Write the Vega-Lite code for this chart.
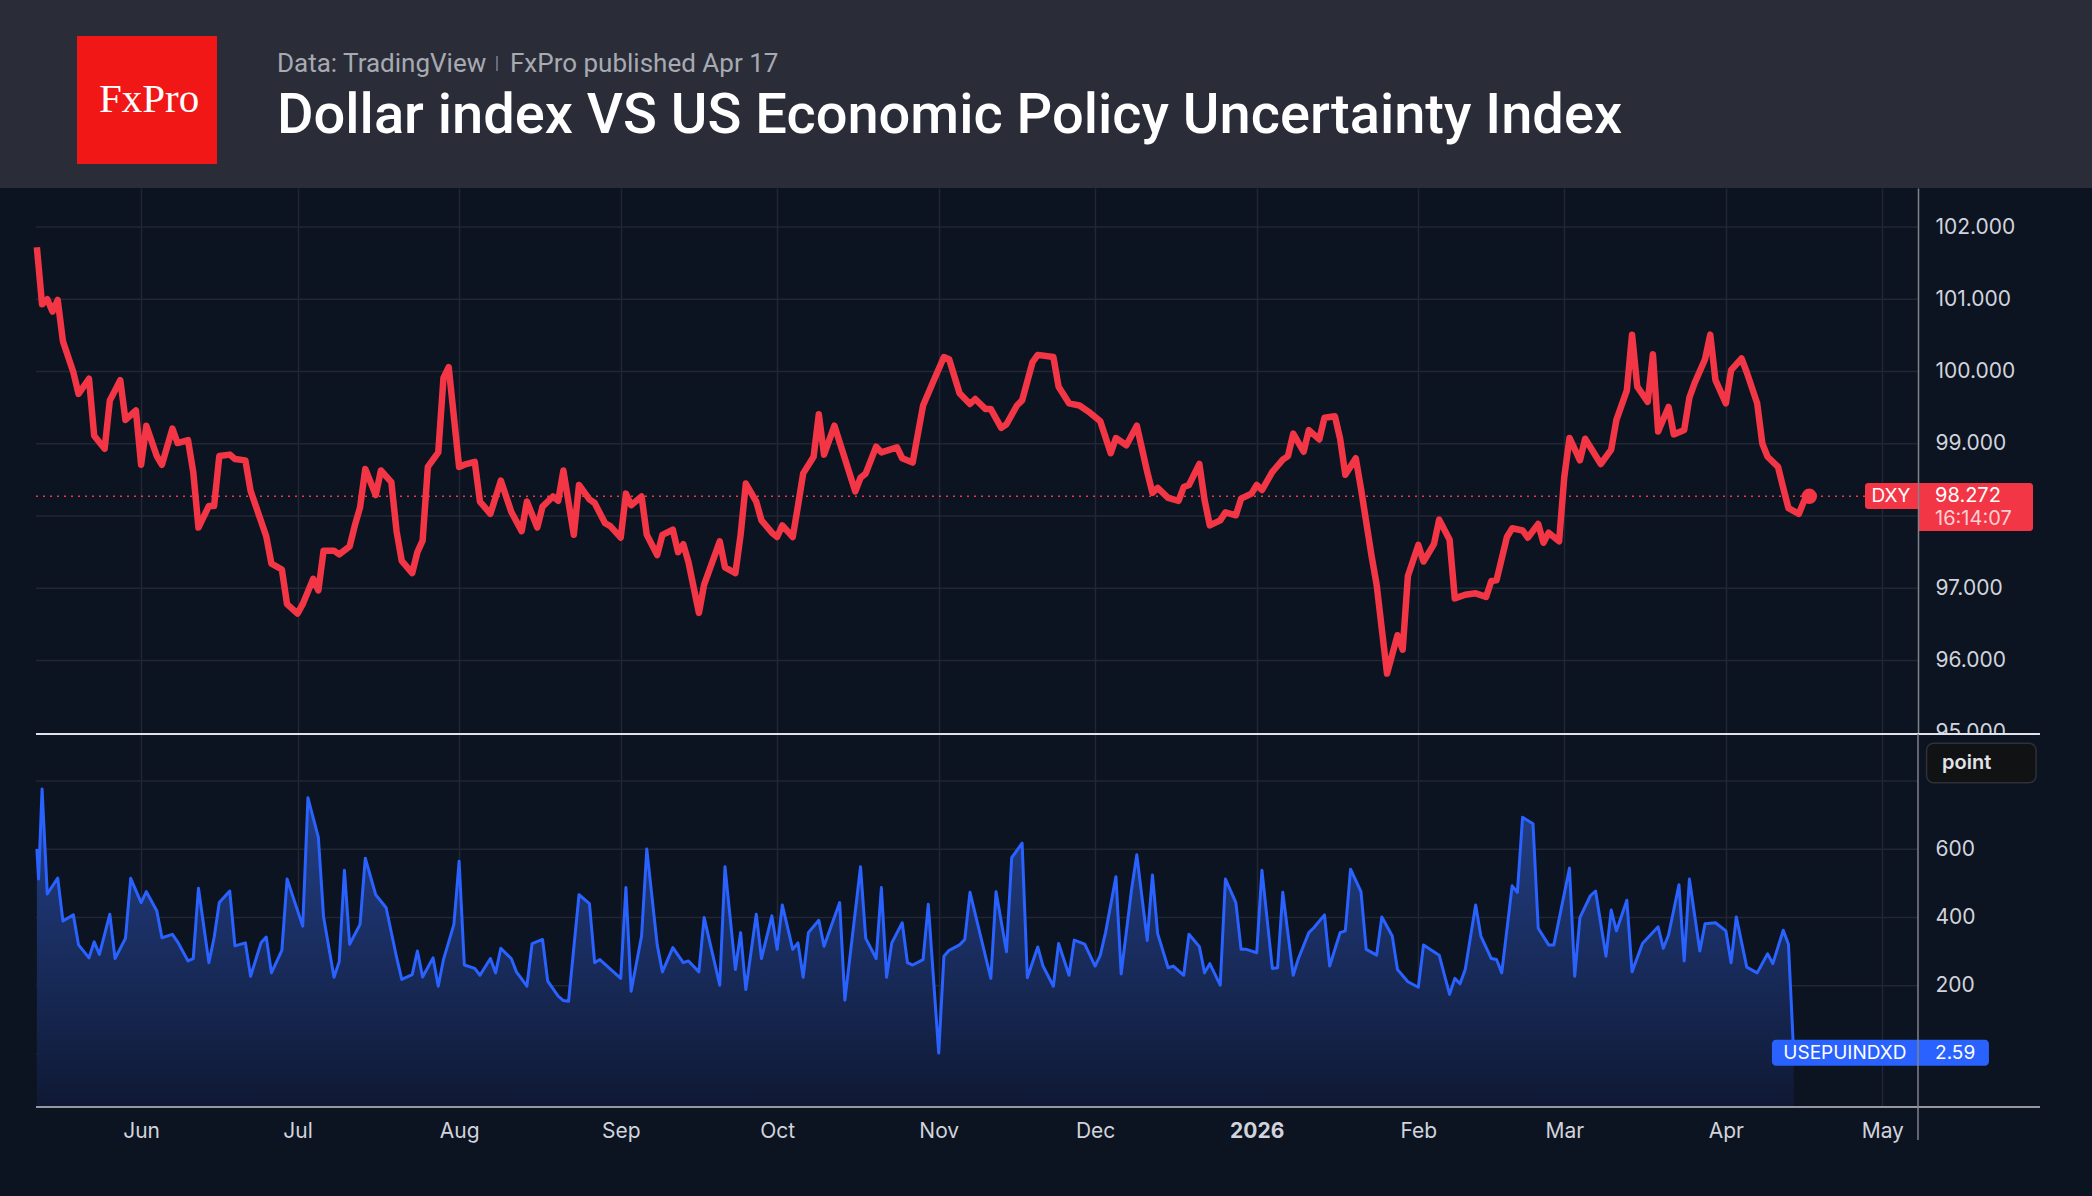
{
  "$schema": "https://vega.github.io/schema/vega-lite/v6.json",
  "background": "#0c1321",
  "padding": 0,
  "spacing": 0,
  "bounds": "flush",
  "config": {
    "view": {"stroke": null},
    "text": {"font": "Inter"}
  },
  "datasets": {
    "dxy": [
      {"date": "2025-05-12", "value": 101.72}, {"date": "2025-05-13", "value": 100.93}, {"date": "2025-05-14", "value": 101.0},
      {"date": "2025-05-15", "value": 100.83}, {"date": "2025-05-16", "value": 100.99}, {"date": "2025-05-17", "value": 100.42},
      {"date": "2025-05-19", "value": 99.99}, {"date": "2025-05-20", "value": 99.69}, {"date": "2025-05-22", "value": 99.9},
      {"date": "2025-05-23", "value": 99.11}, {"date": "2025-05-25", "value": 98.93}, {"date": "2025-05-26", "value": 99.6},
      {"date": "2025-05-28", "value": 99.88}, {"date": "2025-05-29", "value": 99.33}, {"date": "2025-05-31", "value": 99.46},
      {"date": "2025-06-01", "value": 98.71}, {"date": "2025-06-02", "value": 99.25}, {"date": "2025-06-04", "value": 98.83},
      {"date": "2025-06-05", "value": 98.71}, {"date": "2025-06-07", "value": 99.21}, {"date": "2025-06-08", "value": 99.01},
      {"date": "2025-06-10", "value": 99.05}, {"date": "2025-06-11", "value": 98.61}, {"date": "2025-06-12", "value": 97.84},
      {"date": "2025-06-14", "value": 98.14}, {"date": "2025-06-15", "value": 98.14}, {"date": "2025-06-16", "value": 98.83},
      {"date": "2025-06-18", "value": 98.85}, {"date": "2025-06-19", "value": 98.79}, {"date": "2025-06-21", "value": 98.77},
      {"date": "2025-06-22", "value": 98.35}, {"date": "2025-06-25", "value": 97.72}, {"date": "2025-06-26", "value": 97.34},
      {"date": "2025-06-28", "value": 97.26}, {"date": "2025-06-29", "value": 96.78}, {"date": "2025-07-01", "value": 96.65},
      {"date": "2025-07-02", "value": 96.78}, {"date": "2025-07-04", "value": 97.13}, {"date": "2025-07-05", "value": 96.97},
      {"date": "2025-07-06", "value": 97.52}, {"date": "2025-07-08", "value": 97.52}, {"date": "2025-07-09", "value": 97.47},
      {"date": "2025-07-11", "value": 97.58}, {"date": "2025-07-12", "value": 97.87}, {"date": "2025-07-13", "value": 98.12},
      {"date": "2025-07-14", "value": 98.65}, {"date": "2025-07-16", "value": 98.29}, {"date": "2025-07-17", "value": 98.63},
      {"date": "2025-07-19", "value": 98.47}, {"date": "2025-07-20", "value": 97.79}, {"date": "2025-07-21", "value": 97.38},
      {"date": "2025-07-23", "value": 97.21}, {"date": "2025-07-24", "value": 97.5}, {"date": "2025-07-25", "value": 97.66},
      {"date": "2025-07-26", "value": 98.68}, {"date": "2025-07-28", "value": 98.88}, {"date": "2025-07-29", "value": 99.91},
      {"date": "2025-07-30", "value": 100.06}, {"date": "2025-08-01", "value": 98.68}, {"date": "2025-08-02", "value": 98.71},
      {"date": "2025-08-04", "value": 98.75}, {"date": "2025-08-05", "value": 98.2}, {"date": "2025-08-07", "value": 98.03},
      {"date": "2025-08-09", "value": 98.49}, {"date": "2025-08-11", "value": 98.06}, {"date": "2025-08-13", "value": 97.79},
      {"date": "2025-08-14", "value": 98.2}, {"date": "2025-08-16", "value": 97.84}, {"date": "2025-08-17", "value": 98.13},
      {"date": "2025-08-19", "value": 98.27}, {"date": "2025-08-20", "value": 98.21}, {"date": "2025-08-21", "value": 98.63},
      {"date": "2025-08-23", "value": 97.74}, {"date": "2025-08-24", "value": 98.43}, {"date": "2025-08-26", "value": 98.23},
      {"date": "2025-08-27", "value": 98.18}, {"date": "2025-08-29", "value": 97.9}, {"date": "2025-08-30", "value": 97.86},
      {"date": "2025-09-01", "value": 97.7}, {"date": "2025-09-02", "value": 98.31}, {"date": "2025-09-03", "value": 98.15},
      {"date": "2025-09-05", "value": 98.27}, {"date": "2025-09-06", "value": 97.74}, {"date": "2025-09-08", "value": 97.46},
      {"date": "2025-09-09", "value": 97.74}, {"date": "2025-09-11", "value": 97.81}, {"date": "2025-09-12", "value": 97.5},
      {"date": "2025-09-13", "value": 97.61}, {"date": "2025-09-14", "value": 97.36}, {"date": "2025-09-16", "value": 96.66},
      {"date": "2025-09-17", "value": 97.05}, {"date": "2025-09-20", "value": 97.65}, {"date": "2025-09-21", "value": 97.29},
      {"date": "2025-09-23", "value": 97.21}, {"date": "2025-09-24", "value": 97.74}, {"date": "2025-09-25", "value": 98.45},
      {"date": "2025-09-27", "value": 98.2}, {"date": "2025-09-28", "value": 97.94}, {"date": "2025-09-30", "value": 97.77},
      {"date": "2025-10-01", "value": 97.71}, {"date": "2025-10-02", "value": 97.87}, {"date": "2025-10-04", "value": 97.71},
      {"date": "2025-10-05", "value": 98.14}, {"date": "2025-10-06", "value": 98.59}, {"date": "2025-10-08", "value": 98.82},
      {"date": "2025-10-09", "value": 99.41}, {"date": "2025-10-10", "value": 98.85}, {"date": "2025-10-12", "value": 99.25},
      {"date": "2025-10-13", "value": 99.02}, {"date": "2025-10-16", "value": 98.34}, {"date": "2025-10-17", "value": 98.53},
      {"date": "2025-10-18", "value": 98.59}, {"date": "2025-10-20", "value": 98.96}, {"date": "2025-10-21", "value": 98.88},
      {"date": "2025-10-24", "value": 98.95}, {"date": "2025-10-25", "value": 98.8}, {"date": "2025-10-27", "value": 98.74},
      {"date": "2025-10-29", "value": 99.53}, {"date": "2025-10-31", "value": 99.87}, {"date": "2025-11-02", "value": 100.2},
      {"date": "2025-11-03", "value": 100.17}, {"date": "2025-11-05", "value": 99.7}, {"date": "2025-11-07", "value": 99.55},
      {"date": "2025-11-08", "value": 99.62}, {"date": "2025-11-10", "value": 99.48}, {"date": "2025-11-11", "value": 99.48},
      {"date": "2025-11-13", "value": 99.22}, {"date": "2025-11-14", "value": 99.27}, {"date": "2025-11-16", "value": 99.53},
      {"date": "2025-11-17", "value": 99.6}, {"date": "2025-11-19", "value": 100.13}, {"date": "2025-11-20", "value": 100.23},
      {"date": "2025-11-23", "value": 100.2}, {"date": "2025-11-24", "value": 99.79}, {"date": "2025-11-26", "value": 99.56},
      {"date": "2025-11-28", "value": 99.53}, {"date": "2025-11-30", "value": 99.43}, {"date": "2025-12-02", "value": 99.31},
      {"date": "2025-12-04", "value": 98.87}, {"date": "2025-12-05", "value": 99.08}, {"date": "2025-12-07", "value": 98.98},
      {"date": "2025-12-09", "value": 99.25}, {"date": "2025-12-11", "value": 98.61}, {"date": "2025-12-12", "value": 98.32},
      {"date": "2025-12-13", "value": 98.39}, {"date": "2025-12-15", "value": 98.25}, {"date": "2025-12-17", "value": 98.21},
      {"date": "2025-12-18", "value": 98.4}, {"date": "2025-12-19", "value": 98.43}, {"date": "2025-12-21", "value": 98.72},
      {"date": "2025-12-22", "value": 98.22}, {"date": "2025-12-23", "value": 97.87}, {"date": "2025-12-25", "value": 97.94},
      {"date": "2025-12-26", "value": 98.05}, {"date": "2025-12-28", "value": 98.01}, {"date": "2025-12-29", "value": 98.24},
      {"date": "2025-12-31", "value": 98.31}, {"date": "2026-01-01", "value": 98.43}, {"date": "2026-01-02", "value": 98.36},
      {"date": "2026-01-04", "value": 98.61}, {"date": "2026-01-06", "value": 98.78}, {"date": "2026-01-07", "value": 98.83},
      {"date": "2026-01-08", "value": 99.14}, {"date": "2026-01-10", "value": 98.89}, {"date": "2026-01-11", "value": 99.19},
      {"date": "2026-01-13", "value": 99.06}, {"date": "2026-01-14", "value": 99.36}, {"date": "2026-01-16", "value": 99.38},
      {"date": "2026-01-17", "value": 99.07}, {"date": "2026-01-18", "value": 98.57}, {"date": "2026-01-20", "value": 98.8},
      {"date": "2026-01-21", "value": 98.38}, {"date": "2026-01-23", "value": 97.46}, {"date": "2026-01-24", "value": 97.05},
      {"date": "2026-01-26", "value": 95.82}, {"date": "2026-01-28", "value": 96.35}, {"date": "2026-01-29", "value": 96.15},
      {"date": "2026-01-30", "value": 97.17}, {"date": "2026-02-01", "value": 97.6}, {"date": "2026-02-02", "value": 97.37},
      {"date": "2026-02-04", "value": 97.61}, {"date": "2026-02-05", "value": 97.95}, {"date": "2026-02-07", "value": 97.67},
      {"date": "2026-02-08", "value": 96.86}, {"date": "2026-02-10", "value": 96.91}, {"date": "2026-02-12", "value": 96.93},
      {"date": "2026-02-14", "value": 96.88}, {"date": "2026-02-15", "value": 97.1}, {"date": "2026-02-16", "value": 97.11},
      {"date": "2026-02-18", "value": 97.71}, {"date": "2026-02-19", "value": 97.83}, {"date": "2026-02-21", "value": 97.8},
      {"date": "2026-02-22", "value": 97.7}, {"date": "2026-02-24", "value": 97.89}, {"date": "2026-02-25", "value": 97.63},
      {"date": "2026-02-26", "value": 97.77}, {"date": "2026-02-28", "value": 97.65}, {"date": "2026-03-01", "value": 98.54},
      {"date": "2026-03-02", "value": 99.08}, {"date": "2026-03-04", "value": 98.77}, {"date": "2026-03-05", "value": 99.07},
      {"date": "2026-03-08", "value": 98.72}, {"date": "2026-03-10", "value": 98.92}, {"date": "2026-03-11", "value": 99.33},
      {"date": "2026-03-13", "value": 99.74}, {"date": "2026-03-14", "value": 100.51}, {"date": "2026-03-15", "value": 99.79},
      {"date": "2026-03-17", "value": 99.58}, {"date": "2026-03-18", "value": 100.24}, {"date": "2026-03-19", "value": 99.17},
      {"date": "2026-03-21", "value": 99.51}, {"date": "2026-03-22", "value": 99.13}, {"date": "2026-03-24", "value": 99.19},
      {"date": "2026-03-25", "value": 99.64}, {"date": "2026-03-26", "value": 99.84}, {"date": "2026-03-28", "value": 100.17},
      {"date": "2026-03-29", "value": 100.51}, {"date": "2026-03-30", "value": 99.88}, {"date": "2026-04-01", "value": 99.56},
      {"date": "2026-04-02", "value": 100.02}, {"date": "2026-04-04", "value": 100.18}, {"date": "2026-04-05", "value": 99.99},
      {"date": "2026-04-07", "value": 99.56}, {"date": "2026-04-08", "value": 99.0}, {"date": "2026-04-09", "value": 98.82},
      {"date": "2026-04-11", "value": 98.68}, {"date": "2026-04-12", "value": 98.39}, {"date": "2026-04-13", "value": 98.11},
      {"date": "2026-04-15", "value": 98.03}, {"date": "2026-04-16", "value": 98.21}, {"date": "2026-04-17", "value": 98.272}
    ],
    "epu": [
      {"date": "2025-05-12T00:00:00Z", "value": 601}, {"date": "2025-05-12T08:00:00Z", "value": 513}, {"date": "2025-05-13", "value": 777},
      {"date": "2025-05-14", "value": 469}, {"date": "2025-05-16", "value": 516}, {"date": "2025-05-17", "value": 390},
      {"date": "2025-05-19", "value": 408}, {"date": "2025-05-20", "value": 320}, {"date": "2025-05-22", "value": 282},
      {"date": "2025-05-23", "value": 329}, {"date": "2025-05-24", "value": 292}, {"date": "2025-05-26", "value": 410},
      {"date": "2025-05-27", "value": 280}, {"date": "2025-05-29", "value": 339}, {"date": "2025-05-30", "value": 515},
      {"date": "2025-06-01", "value": 444}, {"date": "2025-06-02", "value": 476}, {"date": "2025-06-04", "value": 420},
      {"date": "2025-06-05", "value": 341}, {"date": "2025-06-07", "value": 351}, {"date": "2025-06-08", "value": 329},
      {"date": "2025-06-10", "value": 273}, {"date": "2025-06-11", "value": 280}, {"date": "2025-06-12", "value": 486},
      {"date": "2025-06-14", "value": 268}, {"date": "2025-06-15", "value": 341}, {"date": "2025-06-16", "value": 444},
      {"date": "2025-06-18", "value": 478}, {"date": "2025-06-19", "value": 317}, {"date": "2025-06-21", "value": 326},
      {"date": "2025-06-22", "value": 228}, {"date": "2025-06-24", "value": 326}, {"date": "2025-06-25", "value": 343},
      {"date": "2025-06-26", "value": 238}, {"date": "2025-06-28", "value": 304}, {"date": "2025-06-29", "value": 513},
      {"date": "2025-07-02", "value": 375}, {"date": "2025-07-03", "value": 751}, {"date": "2025-07-05", "value": 635},
      {"date": "2025-07-06", "value": 402}, {"date": "2025-07-08", "value": 225}, {"date": "2025-07-09", "value": 271},
      {"date": "2025-07-10", "value": 539}, {"date": "2025-07-11", "value": 322}, {"date": "2025-07-13", "value": 380},
      {"date": "2025-07-14", "value": 574}, {"date": "2025-07-16", "value": 467}, {"date": "2025-07-18", "value": 429},
      {"date": "2025-07-20", "value": 284}, {"date": "2025-07-21", "value": 219}, {"date": "2025-07-23", "value": 233},
      {"date": "2025-07-24", "value": 302}, {"date": "2025-07-25", "value": 226}, {"date": "2025-07-27", "value": 282},
      {"date": "2025-07-28", "value": 199}, {"date": "2025-07-29", "value": 277}, {"date": "2025-07-31", "value": 380},
      {"date": "2025-08-01", "value": 565}, {"date": "2025-08-02", "value": 261}, {"date": "2025-08-04", "value": 251},
      {"date": "2025-08-05", "value": 231}, {"date": "2025-08-07", "value": 280}, {"date": "2025-08-08", "value": 238},
      {"date": "2025-08-09", "value": 310}, {"date": "2025-08-11", "value": 280}, {"date": "2025-08-12", "value": 241},
      {"date": "2025-08-14", "value": 199}, {"date": "2025-08-15", "value": 324}, {"date": "2025-08-17", "value": 336},
      {"date": "2025-08-18", "value": 214}, {"date": "2025-08-20", "value": 170}, {"date": "2025-08-21", "value": 157},
      {"date": "2025-08-22", "value": 155}, {"date": "2025-08-24", "value": 467}, {"date": "2025-08-26", "value": 441},
      {"date": "2025-08-27", "value": 268}, {"date": "2025-08-28", "value": 277}, {"date": "2025-09-01", "value": 222},
      {"date": "2025-09-02", "value": 488}, {"date": "2025-09-03", "value": 184}, {"date": "2025-09-05", "value": 346},
      {"date": "2025-09-06", "value": 601}, {"date": "2025-09-08", "value": 320}, {"date": "2025-09-09", "value": 241},
      {"date": "2025-09-11", "value": 312}, {"date": "2025-09-13", "value": 268}, {"date": "2025-09-14", "value": 273},
      {"date": "2025-09-16", "value": 241}, {"date": "2025-09-17", "value": 400}, {"date": "2025-09-20", "value": 202},
      {"date": "2025-09-21", "value": 549}, {"date": "2025-09-23", "value": 248}, {"date": "2025-09-24", "value": 356},
      {"date": "2025-09-25", "value": 189}, {"date": "2025-09-27", "value": 410}, {"date": "2025-09-28", "value": 280},
      {"date": "2025-09-30", "value": 405}, {"date": "2025-10-01", "value": 307}, {"date": "2025-10-02", "value": 437},
      {"date": "2025-10-04", "value": 307}, {"date": "2025-10-05", "value": 326}, {"date": "2025-10-06", "value": 225},
      {"date": "2025-10-07", "value": 356}, {"date": "2025-10-09", "value": 392}, {"date": "2025-10-10", "value": 316},
      {"date": "2025-10-12", "value": 402}, {"date": "2025-10-13", "value": 444}, {"date": "2025-10-14", "value": 158},
      {"date": "2025-10-17", "value": 549}, {"date": "2025-10-18", "value": 339}, {"date": "2025-10-20", "value": 280},
      {"date": "2025-10-21", "value": 488}, {"date": "2025-10-22", "value": 225}, {"date": "2025-10-23", "value": 326},
      {"date": "2025-10-25", "value": 385}, {"date": "2025-10-26", "value": 268}, {"date": "2025-10-27", "value": 261},
      {"date": "2025-10-29", "value": 277}, {"date": "2025-10-30", "value": 439}, {"date": "2025-11-01", "value": 3},
      {"date": "2025-11-02", "value": 287}, {"date": "2025-11-03", "value": 304}, {"date": "2025-11-05", "value": 320},
      {"date": "2025-11-06", "value": 336}, {"date": "2025-11-07", "value": 474}, {"date": "2025-11-11", "value": 222},
      {"date": "2025-11-12", "value": 476}, {"date": "2025-11-14", "value": 300}, {"date": "2025-11-15", "value": 576},
      {"date": "2025-11-17", "value": 618}, {"date": "2025-11-18", "value": 224}, {"date": "2025-11-20", "value": 314},
      {"date": "2025-11-21", "value": 258}, {"date": "2025-11-23", "value": 199}, {"date": "2025-11-24", "value": 324},
      {"date": "2025-11-26", "value": 231}, {"date": "2025-11-27", "value": 334}, {"date": "2025-11-29", "value": 322},
      {"date": "2025-12-01", "value": 258}, {"date": "2025-12-02", "value": 290}, {"date": "2025-12-03", "value": 356},
      {"date": "2025-12-05", "value": 520}, {"date": "2025-12-06", "value": 235}, {"date": "2025-12-08", "value": 483},
      {"date": "2025-12-09", "value": 584}, {"date": "2025-12-11", "value": 333}, {"date": "2025-12-12", "value": 525},
      {"date": "2025-12-13", "value": 353}, {"date": "2025-12-15", "value": 253}, {"date": "2025-12-16", "value": 258},
      {"date": "2025-12-18", "value": 231}, {"date": "2025-12-19", "value": 351}, {"date": "2025-12-21", "value": 315},
      {"date": "2025-12-22", "value": 238}, {"date": "2025-12-23", "value": 265}, {"date": "2025-12-25", "value": 202},
      {"date": "2025-12-26", "value": 513}, {"date": "2025-12-28", "value": 444}, {"date": "2025-12-29", "value": 307},
      {"date": "2025-12-30", "value": 307}, {"date": "2026-01-01", "value": 297}, {"date": "2026-01-02", "value": 539},
      {"date": "2026-01-04", "value": 251}, {"date": "2026-01-05", "value": 253}, {"date": "2026-01-06", "value": 474},
      {"date": "2026-01-08", "value": 231}, {"date": "2026-01-09", "value": 280}, {"date": "2026-01-11", "value": 356},
      {"date": "2026-01-12", "value": 371}, {"date": "2026-01-14", "value": 408}, {"date": "2026-01-15", "value": 258},
      {"date": "2026-01-17", "value": 356}, {"date": "2026-01-18", "value": 361}, {"date": "2026-01-19", "value": 542},
      {"date": "2026-01-21", "value": 476}, {"date": "2026-01-22", "value": 307}, {"date": "2026-01-24", "value": 290},
      {"date": "2026-01-25", "value": 402}, {"date": "2026-01-27", "value": 346}, {"date": "2026-01-28", "value": 248},
      {"date": "2026-01-30", "value": 212}, {"date": "2026-02-01", "value": 196}, {"date": "2026-02-02", "value": 320},
      {"date": "2026-02-05", "value": 290}, {"date": "2026-02-07", "value": 175}, {"date": "2026-02-08", "value": 222},
      {"date": "2026-02-09", "value": 206}, {"date": "2026-02-10", "value": 248}, {"date": "2026-02-12", "value": 437},
      {"date": "2026-02-13", "value": 346}, {"date": "2026-02-15", "value": 280}, {"date": "2026-02-16", "value": 277},
      {"date": "2026-02-17", "value": 238}, {"date": "2026-02-19", "value": 493}, {"date": "2026-02-20", "value": 474},
      {"date": "2026-02-21", "value": 694}, {"date": "2026-02-23", "value": 675}, {"date": "2026-02-24", "value": 369},
      {"date": "2026-02-26", "value": 320}, {"date": "2026-02-27", "value": 320}, {"date": "2026-03-02", "value": 545},
      {"date": "2026-03-03", "value": 228}, {"date": "2026-03-04", "value": 400}, {"date": "2026-03-06", "value": 464},
      {"date": "2026-03-07", "value": 478}, {"date": "2026-03-09", "value": 287}, {"date": "2026-03-10", "value": 422},
      {"date": "2026-03-11", "value": 361}, {"date": "2026-03-13", "value": 451}, {"date": "2026-03-14", "value": 241},
      {"date": "2026-03-16", "value": 324}, {"date": "2026-03-19", "value": 373}, {"date": "2026-03-20", "value": 310},
      {"date": "2026-03-21", "value": 349}, {"date": "2026-03-23", "value": 496}, {"date": "2026-03-24", "value": 273},
      {"date": "2026-03-25", "value": 513}, {"date": "2026-03-27", "value": 302}, {"date": "2026-03-28", "value": 382},
      {"date": "2026-03-30", "value": 385}, {"date": "2026-04-01", "value": 361}, {"date": "2026-04-02", "value": 268},
      {"date": "2026-04-03", "value": 402}, {"date": "2026-04-05", "value": 255}, {"date": "2026-04-07", "value": 238},
      {"date": "2026-04-09", "value": 294}, {"date": "2026-04-10", "value": 265}, {"date": "2026-04-12", "value": 363},
      {"date": "2026-04-13", "value": 322}, {"date": "2026-04-14", "value": 2.59}
    ]
  },
  "resolve": {"scale": {"x": "independent", "y": "independent"}},
  "vconcat": [
    {
      "width": 2092,
      "height": 188,
      "view": {"fill": "#2a2d38", "stroke": null},
      "data": {"values": [{}]},
      "layer": [
        {
          "mark": {"type": "rect", "color": "#f21717"},
          "encoding": {
            "x": {"datum": 77, "type": "quantitative", "scale": {"domain": [0, 2092], "nice": false, "zero": false}, "axis": null},
            "x2": {"datum": 217},
            "y": {"datum": 36, "type": "quantitative", "scale": {"domain": [188, 0], "nice": false, "zero": false}, "axis": null},
            "y2": {"datum": 164}
          }
        },
        {
          "mark": {"type": "text", "text": "FxPro", "font": "Liberation Serif", "fontSize": 41, "color": "#ffffff", "align": "center", "baseline": "alphabetic"},
          "encoding": {
            "x": {"datum": 149, "type": "quantitative", "axis": null},
            "y": {"datum": 112, "type": "quantitative", "axis": null}
          }
        },
        {
          "mark": {"type": "text", "text": "Data: TradingView", "font": "Roboto", "fontSize": 26, "color": "#a7aab2", "align": "left", "baseline": "alphabetic"},
          "encoding": {
            "x": {"datum": 277, "type": "quantitative", "axis": null},
            "y": {"datum": 72, "type": "quantitative", "axis": null}
          }
        },
        {
          "mark": {"type": "rule", "color": "#7d808a", "strokeWidth": 1.5},
          "encoding": {
            "x": {"datum": 497, "type": "quantitative", "axis": null},
            "y": {"datum": 56, "type": "quantitative", "axis": null},
            "y2": {"datum": 71}
          }
        },
        {
          "mark": {"type": "text", "text": "FxPro published Apr 17", "font": "Roboto", "fontSize": 26, "color": "#a7aab2", "align": "left", "baseline": "alphabetic"},
          "encoding": {
            "x": {"datum": 510, "type": "quantitative", "axis": null},
            "y": {"datum": 72, "type": "quantitative", "axis": null}
          }
        },
        {
          "mark": {"type": "text", "text": "Dollar index VS US Economic Policy Uncertainty Index", "font": "Roboto", "fontSize": 56, "fontWeight": 500, "color": "#ffffff", "align": "left", "baseline": "alphabetic"},
          "encoding": {
            "x": {"datum": 277, "type": "quantitative", "axis": null},
            "y": {"datum": 133, "type": "quantitative", "axis": null}
          }
        }
      ]
    },
    {
      "width": 2092,
      "height": 546,
      "view": {"fill": "#0c1321", "stroke": null},
      "layer": [
        {
          "data": {"values": [{"level": 96}, {"level": 97}, {"level": 98}, {"level": 99}, {"level": 100}, {"level": 101}, {"level": 102}]},
          "mark": {"type": "rule", "color": "#232733", "strokeWidth": 1.5},
          "encoding": {
            "x": {"datum": {"year": 2025, "month": 5, "date": 11, "hours": 20, "utc": true}, "type": "temporal", "scale": {"type": "utc", "nice": false, "domain": [{"year": 2025, "month": 5, "date": 4, "hours": 22, "minutes": 20, "utc": true}, {"year": 2026, "month": 6, "date": 10, "hours": 5, "minutes": 30, "utc": true}]}},
            "x2": {"datum": {"year": 2026, "month": 5, "date": 7, "hours": 20, "minutes": 25, "utc": true}},
            "y": {"field": "level", "type": "quantitative", "scale": {"domain": [94.983, 102.54], "nice": false, "zero": false}}
          }
        },
        {
          "data": {"values": [{}]},
          "mark": {"type": "rule", "color": "#f23645", "strokeWidth": 1.5, "strokeDash": [2, 5]},
          "encoding": {
            "x": {"datum": {"year": 2025, "month": 5, "date": 11, "hours": 20, "utc": true}, "type": "temporal", "scale": {"type": "utc", "nice": false, "domain": [{"year": 2025, "month": 5, "date": 4, "hours": 22, "minutes": 20, "utc": true}, {"year": 2026, "month": 6, "date": 10, "hours": 5, "minutes": 30, "utc": true}]}},
            "x2": {"datum": {"year": 2026, "month": 4, "date": 27, "hours": 16, "minutes": 20, "utc": true}},
            "y": {"datum": 98.272, "type": "quantitative"}
          }
        },
        {
          "data": {"name": "dxy"},
          "mark": {"type": "line", "color": "#f23645", "strokeWidth": 6.5, "strokeJoin": "round", "strokeCap": "butt"},
          "encoding": {
            "x": {
              "field": "date", "type": "temporal",
              "scale": {"type": "utc", "nice": false, "domain": [{"year": 2025, "month": 5, "date": 4, "hours": 22, "minutes": 20, "utc": true}, {"year": 2026, "month": 6, "date": 10, "hours": 5, "minutes": 30, "utc": true}]},
              "axis": {
                "title": null, "labels": false, "ticks": false, "tickSize": 0, "domain": false,
                "grid": true, "gridColor": "#232733", "gridWidth": 1.5,
                "values": [
                  {"year": 2025, "month": 6, "date": 1, "utc": true}, {"year": 2025, "month": 7, "date": 1, "utc": true},
                  {"year": 2025, "month": 8, "date": 1, "utc": true}, {"year": 2025, "month": 9, "date": 1, "utc": true},
                  {"year": 2025, "month": 10, "date": 1, "utc": true}, {"year": 2025, "month": 11, "date": 1, "utc": true},
                  {"year": 2025, "month": 12, "date": 1, "utc": true}, {"year": 2026, "month": 1, "date": 1, "utc": true},
                  {"year": 2026, "month": 2, "date": 1, "utc": true}, {"year": 2026, "month": 3, "date": 1, "utc": true},
                  {"year": 2026, "month": 4, "date": 1, "utc": true}, {"year": 2026, "month": 5, "date": 1, "utc": true}
                ]
              }
            },
            "y": {
              "field": "value", "type": "quantitative",
              "scale": {"domain": [94.983, 102.54], "nice": false, "zero": false},
              "axis": {
                "title": null, "orient": "right", "offset": -174, "values": [95, 96, 97, 99, 100, 101, 102], "format": ".3f",
                "labels": true, "grid": false, "ticks": false, "tickSize": 0, "labelPadding": 17,
                "domain": true, "domainColor": "#80838c", "domainWidth": 1.5,
                "labelFont": "Inter", "labelFontSize": 21, "labelColor": "#d1d4dc", "zindex": 1
              }
            }
          }
        },
        {
          "data": {"name": "dxy"},
          "transform": [{"filter": "utcyear(datum.date) == 2026 && utcmonth(datum.date) == 3 && utcdate(datum.date) == 17"}],
          "mark": {"type": "circle", "color": "#f23645", "size": 240, "opacity": 1},
          "encoding": {
            "x": {"field": "date", "type": "temporal"},
            "y": {"field": "value", "type": "quantitative"}
          }
        },
        {
          "data": {"values": [{}]},
          "mark": {"type": "rect", "color": "#f23645", "cornerRadiusTopLeft": 3, "cornerRadiusBottomLeft": 3},
          "encoding": {
            "x": {"datum": {"year": 2026, "month": 4, "date": 27, "hours": 16, "minutes": 20, "utc": true}, "type": "temporal"},
            "x2": {"datum": {"year": 2026, "month": 5, "date": 7, "hours": 20, "minutes": 25, "utc": true}},
            "y": {"datum": 98.457, "type": "quantitative"},
            "y2": {"datum": 98.097}
          }
        },
        {
          "data": {"values": [{}]},
          "mark": {"type": "rect", "color": "#f23645", "cornerRadiusTopRight": 3, "cornerRadiusBottomRight": 3},
          "encoding": {
            "x": {"datum": {"year": 2026, "month": 5, "date": 7, "hours": 20, "minutes": 25, "utc": true}, "type": "temporal"},
            "x2": {"datum": {"year": 2026, "month": 5, "date": 29, "hours": 22, "utc": true}},
            "y": {"datum": 98.457, "type": "quantitative"},
            "y2": {"datum": 97.793}
          }
        },
        {
          "data": {"values": [{}]},
          "mark": {"type": "text", "text": "DXY", "font": "Inter", "fontSize": 19, "color": "#ffffff", "align": "center", "baseline": "middle"},
          "encoding": {
            "x": {"datum": {"year": 2026, "month": 5, "date": 2, "hours": 16, "utc": true}, "type": "temporal"},
            "y": {"datum": 98.277, "type": "quantitative"}
          }
        },
        {
          "data": {"name": "dxy"},
          "transform": [{"filter": "utcyear(datum.date) == 2026 && utcmonth(datum.date) == 3 && utcdate(datum.date) == 17"}],
          "mark": {"type": "text", "font": "Inter", "fontSize": 20, "color": "#ffffff", "align": "left", "baseline": "middle"},
          "encoding": {
            "x": {"datum": {"year": 2026, "month": 5, "date": 11, "hours": 3, "utc": true}, "type": "temporal"},
            "y": {"field": "value", "type": "quantitative"},
            "text": {"field": "value", "type": "quantitative", "format": ".3f"}
          }
        },
        {
          "data": {"values": [{}]},
          "mark": {"type": "text", "text": "16:14:07", "font": "Inter", "fontSize": 20, "color": "#fbd0d4", "align": "left", "baseline": "middle"},
          "encoding": {
            "x": {"datum": {"year": 2026, "month": 5, "date": 11, "hours": 3, "utc": true}, "type": "temporal"},
            "y": {"datum": 97.963, "type": "quantitative"}
          }
        }
      ]
    },
    {
      "width": 2092,
      "height": 373,
      "view": {"fill": "#0c1321", "stroke": null},
      "layer": [
        {
          "data": {"values": [{"level": 0}, {"level": 200}, {"level": 400}, {"level": 600}, {"level": 800}]},
          "mark": {"type": "rule", "color": "#232733", "strokeWidth": 1.5},
          "encoding": {
            "x": {"datum": {"year": 2025, "month": 5, "date": 11, "hours": 20, "utc": true}, "type": "temporal", "scale": {"type": "utc", "nice": false, "domain": [{"year": 2025, "month": 5, "date": 4, "hours": 22, "minutes": 20, "utc": true}, {"year": 2026, "month": 6, "date": 10, "hours": 5, "minutes": 30, "utc": true}]}},
            "x2": {"datum": {"year": 2026, "month": 5, "date": 7, "hours": 20, "minutes": 25, "utc": true}},
            "y": {"field": "level", "type": "quantitative", "scale": {"domain": [-155, 938], "nice": false, "zero": false}}
          }
        },
        {
          "data": {"name": "epu"},
          "mark": {
            "type": "area",
            "color": {"gradient": "linear", "x1": 0, "y1": 0, "x2": 0, "y2": 1, "stops": [{"offset": 0, "color": "#23418a"}, {"offset": 1, "color": "#0f1934"}]}
          },
          "encoding": {
            "x": {"field": "date", "type": "temporal", "scale": {"type": "utc", "nice": false, "domain": [{"year": 2025, "month": 5, "date": 4, "hours": 22, "minutes": 20, "utc": true}, {"year": 2026, "month": 6, "date": 10, "hours": 5, "minutes": 30, "utc": true}]}},
            "y": {"field": "value", "type": "quantitative", "scale": {"domain": [-155, 938], "nice": false, "zero": false}},
            "y2": {"datum": -155}
          }
        },
        {
          "data": {"name": "epu"},
          "mark": {"type": "line", "color": "#2962ff", "strokeWidth": 3, "strokeJoin": "round"},
          "encoding": {
            "x": {
              "field": "date", "type": "temporal",
              "scale": {"type": "utc", "nice": false, "domain": [{"year": 2025, "month": 5, "date": 4, "hours": 22, "minutes": 20, "utc": true}, {"year": 2026, "month": 6, "date": 10, "hours": 5, "minutes": 30, "utc": true}]},
              "axis": {
                "title": null, "labels": true, "ticks": false, "tickSize": 0, "domain": false,
                "grid": true, "gridColor": "#232733", "gridWidth": 1.5,
                "labelPadding": 24, "labelBaseline": "middle", "labelFlush": false, "labelOverlap": false,
                "labelFont": "Inter", "labelFontSize": 21, "labelColor": "#d1d4dc",
                "labelExpr": "utcFormat(datum.value, utcmonth(datum.value) == 0 ? '%Y' : '%b')",
                "labelFontWeight": {"condition": {"test": "utcmonth(datum.value) == 0", "value": "bold"}, "value": "normal"},
                "values": [
                  {"year": 2025, "month": 6, "date": 1, "utc": true}, {"year": 2025, "month": 7, "date": 1, "utc": true},
                  {"year": 2025, "month": 8, "date": 1, "utc": true}, {"year": 2025, "month": 9, "date": 1, "utc": true},
                  {"year": 2025, "month": 10, "date": 1, "utc": true}, {"year": 2025, "month": 11, "date": 1, "utc": true},
                  {"year": 2025, "month": 12, "date": 1, "utc": true}, {"year": 2026, "month": 1, "date": 1, "utc": true},
                  {"year": 2026, "month": 2, "date": 1, "utc": true}, {"year": 2026, "month": 3, "date": 1, "utc": true},
                  {"year": 2026, "month": 4, "date": 1, "utc": true}, {"year": 2026, "month": 5, "date": 1, "utc": true}
                ]
              }
            },
            "y": {
              "field": "value", "type": "quantitative",
              "scale": {"domain": [-155, 938], "nice": false, "zero": false},
              "axis": {
                "title": null, "orient": "right", "offset": -174, "values": [200, 400, 600], "format": "d",
                "labels": true, "grid": false, "ticks": false, "tickSize": 0, "labelPadding": 17, "domain": false,
                "labelFont": "Inter", "labelFontSize": 21, "labelColor": "#d1d4dc", "zindex": 1
              }
            }
          }
        },
        {
          "data": {"values": [{}]},
          "mark": {"type": "rule", "color": "#e0e3eb", "strokeWidth": 2},
          "encoding": {
            "x": {"datum": {"year": 2025, "month": 5, "date": 11, "hours": 20, "utc": true}, "type": "temporal"},
            "x2": {"datum": {"year": 2026, "month": 5, "date": 31, "hours": 6, "utc": true}},
            "y": {"datum": 938, "type": "quantitative"}
          }
        },
        {
          "data": {"values": [{}]},
          "mark": {"type": "rule", "color": "#9598a1", "strokeWidth": 2},
          "encoding": {
            "x": {"datum": {"year": 2025, "month": 5, "date": 11, "hours": 20, "utc": true}, "type": "temporal"},
            "x2": {"datum": {"year": 2026, "month": 5, "date": 31, "hours": 6, "utc": true}},
            "y": {"datum": -155, "type": "quantitative"}
          }
        },
        {
          "data": {"values": [{}]},
          "mark": {"type": "rect", "color": "#2962ff", "cornerRadius": 4},
          "encoding": {
            "x": {"datum": {"year": 2026, "month": 4, "date": 9, "hours": 20, "utc": true}, "type": "temporal"},
            "x2": {"datum": {"year": 2026, "month": 5, "date": 21, "hours": 11, "utc": true}},
            "y": {"datum": 41.9, "type": "quantitative"},
            "y2": {"datum": -34.3}
          }
        },
        {
          "data": {"values": [{}]},
          "mark": {"type": "rule", "color": "#80838c", "strokeWidth": 1.5},
          "encoding": {
            "x": {"datum": {"year": 2026, "month": 5, "date": 7, "hours": 20, "minutes": 25, "utc": true}, "type": "temporal"},
            "y": {"datum": 938, "type": "quantitative"},
            "y2": {"datum": -252}
          }
        },
        {
          "data": {"values": [{}]},
          "mark": {"type": "text", "text": "USEPUINDXD", "font": "Inter", "fontSize": 19, "color": "#ffffff", "align": "center", "baseline": "middle"},
          "encoding": {
            "x": {"datum": {"year": 2026, "month": 4, "date": 23, "hours": 20, "utc": true}, "type": "temporal"},
            "y": {"datum": 3, "type": "quantitative"}
          }
        },
        {
          "data": {"name": "epu"},
          "transform": [{"filter": "utcyear(datum.date) == 2026 && utcmonth(datum.date) == 3 && utcdate(datum.date) == 14"}],
          "mark": {"type": "text", "font": "Inter", "fontSize": 19, "color": "#ffffff", "align": "left", "baseline": "middle"},
          "encoding": {
            "x": {"datum": {"year": 2026, "month": 5, "date": 11, "hours": 3, "utc": true}, "type": "temporal"},
            "y": {"field": "value", "type": "quantitative"},
            "text": {"field": "value", "type": "quantitative", "format": ".2f"}
          }
        },
        {
          "data": {"values": [{}]},
          "mark": {"type": "rect", "color": "#111214", "stroke": "#2e3138", "strokeWidth": 1.5, "cornerRadius": 7},
          "encoding": {
            "x": {"datum": {"year": 2026, "month": 5, "date": 9, "hours": 12, "utc": true}, "type": "temporal"},
            "x2": {"datum": {"year": 2026, "month": 5, "date": 30, "hours": 12, "utc": true}},
            "y": {"datum": 911, "type": "quantitative"},
            "y2": {"datum": 795}
          }
        },
        {
          "data": {"values": [{}]},
          "mark": {"type": "text", "text": "point", "font": "Inter", "fontSize": 20, "fontWeight": 600, "color": "#e1e3e8", "align": "left", "baseline": "middle"},
          "encoding": {
            "x": {"datum": {"year": 2026, "month": 5, "date": 12, "hours": 11, "utc": true}, "type": "temporal"},
            "y": {"datum": 853, "type": "quantitative"}
          }
        }
      ]
    },
    {
      "width": 2092,
      "height": 89,
      "data": {"values": [{}]},
      "mark": {"type": "rect", "opacity": 0},
      "encoding": {
        "x": {"datum": 0, "type": "quantitative", "scale": {"domain": [0, 1], "nice": false}, "axis": null},
        "x2": {"datum": 1},
        "y": {"datum": 0, "type": "quantitative", "scale": {"domain": [0, 1], "nice": false}, "axis": null},
        "y2": {"datum": 1}
      }
    }
  ]
}
